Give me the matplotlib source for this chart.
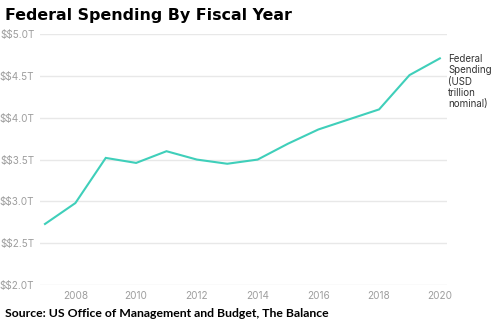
import matplotlib
matplotlib.use("Agg")
import matplotlib.pyplot as plt

plt.rcParams["text.parse_math"] = False

years = [2007, 2008, 2009, 2010, 2011, 2012, 2013, 2014, 2015, 2016, 2017, 2018, 2019, 2020]
spending = [2.73, 2.98, 3.52, 3.46, 3.60, 3.50, 3.45, 3.50, 3.69, 3.86, 3.98, 4.10, 4.51, 4.71]
y_ticks = [2.0, 2.5, 3.0, 3.5, 4.0, 4.5, 5.0]
x_ticks = [2008, 2010, 2012, 2014, 2016, 2018, 2020]

fig = plt.figure(figsize=(4.98, 3.25), dpi=100)
ax = fig.add_axes([0.0803, 0.123, 0.817, 0.772])

ax.plot(years, spending, color="#3fcfba", linewidth=1.5, solid_joinstyle="miter")

ax.set_xlim(2006.835, 2020.23)
ax.set_ylim(2.0, 5.0)
ax.set_yticks(y_ticks)
ax.set_yticklabels([f"$${v:.1f}T" for v in y_ticks])
ax.set_xticks(x_ticks)
ax.set_xticklabels([str(x) for x in x_ticks])

ax.grid(axis="y", color="#e8e8e8", linewidth=1)
ax.set_axisbelow(True)
for s in ax.spines.values():
    s.set_visible(False)
ax.tick_params(axis="both", length=0, colors="#9e9e9e", labelsize=7.2)
ax.tick_params(axis="y", pad=4)
ax.tick_params(axis="x", pad=4)
for lbl in ax.get_xticklabels() + ax.get_yticklabels():
    lbl.set_fontfamily("Inter")

ax.annotate("Federal\nSpending\n(USD\ntrillion\nnominal)",
            xy=(years[-1], spending[-1]), xytext=(6, 3), textcoords="offset points",
            ha="left", va="top", fontsize=7, color="#333333",
            family="Inter", linespacing=1.15, annotation_clip=False)

fig.text(0.010, 0.975, "Federal Spending By Fiscal Year", ha="left", va="top",
         fontsize=11.4, fontweight="bold", family="DejaVu Sans", color="#000000")
fig.text(0.010, 0.018, "Source: US Office of Management and Budget, The Balance",
         ha="left", va="bottom", fontsize=8.8, fontweight="bold",
         family="Lato", color="#000000")

fig.savefig("out.png", dpi=100, facecolor="white")
